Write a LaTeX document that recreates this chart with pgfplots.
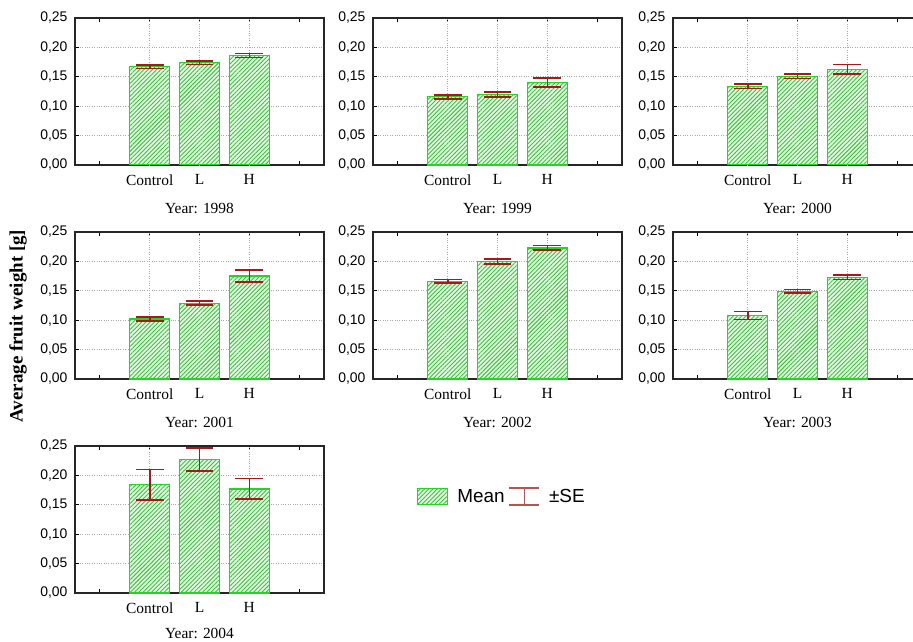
\documentclass[border=0pt]{standalone}
\usepackage{pgfplots}
\pgfplotsset{compat=1.18}
\usepackage{fontspec}
\setmainfont{Liberation Serif}
\newfontfamily\arial{Liberation Sans}
\usetikzlibrary{patterns.meta}
\definecolor{barg}{RGB}{34,214,34}
\definecolor{hatchg}{RGB}{60,195,60}
\definecolor{barbg}{RGB}{228,250,228}
\definecolor{errred}{RGB}{165,25,25}
\definecolor{gridc}{RGB}{170,170,170}

\pgfplotsset{
 panel/.style={
  anchor=north west, scale only axis, width=249bp, height=147bp,
  xmin=-0.5, xmax=4.5, ymin=0, ymax=0.25,
  xtick={0,1,2,3,4}, xticklabels={,Control,L,H,},
  extra x ticks={1,2,3}, extra x tick labels={},
  extra x tick style={grid=major, major tick length=0pt},
  ytick={0,0.05,0.1,0.15,0.2,0.25}, ymajorgrids,
  major grid style={gridc, dotted, line width=0.8bp},
  tick align=inside, major tick length=4bp, tick style={black, line width=1bp},
  ytick pos=left, xtick pos=both,
  axis line style={line width=1.2bp, black!85},
  yticklabel style={font=\arial\fontsize{14}{16}\selectfont, xshift=-4bp,
    /pgf/number format/.cd, fixed, fixed zerofill, precision=2, use comma, assume math mode=true},
  xticklabel style={font=\fontsize{15.5}{17}\selectfont, yshift=-6bp},
  xlabel style={font=\fontsize{15.5}{17}\selectfont, at={(axis description cs:0.5,0)}, anchor=center, yshift=-43bp},
 },
 bars/.style={ybar, bar width=40bp, draw=barg, line width=1.3bp, fill=barbg,
   postaction={pattern={Lines[angle=45,distance=3bp,line width=0.9bp]}, pattern color=hatchg}},
 errline/.style={draw=errred, line width=1.6bp, solid, mark=none, forget plot},
}

% error bar of mean #2 with standard error #3 at category position #1
\newcommand\eb[3]{%
  \pgfmathsetmacro\ebl{#1-0.28}\pgfmathsetmacro\ebr{#1+0.28}%
  \pgfmathsetmacro\ebh{#2+#3}\pgfmathsetmacro\ebo{#2-#3}%
  \edef\ebtemp{%
    \noexpand\addplot[errline] coordinates {(\ebl,\ebh) (\ebr,\ebh)};
    \noexpand\addplot[errline] coordinates {(#1,\ebh) (#1,\ebo)};
    \noexpand\addplot[errline] coordinates {(\ebl,\ebo) (\ebr,\ebo)};}%
  \ebtemp}

\begin{document}
\begin{tikzpicture}
\useasboundingbox (0,0) rectangle (913bp,-642bp);

\begin{axis}[panel, at={(75bp,-18bp)}, xlabel={Year: 1998}]
\addplot[bars] coordinates {(1,0.167) (2,0.174) (3,0.186)};
\eb{1}{0.167}{0.003}\eb{2}{0.174}{0.003}\eb{3}{0.186}{0.0035}
\end{axis}

\begin{axis}[panel, at={(373bp,-18bp)}, xlabel={Year: 1999}]
\addplot[bars] coordinates {(1,0.116) (2,0.120) (3,0.140)};
\eb{1}{0.116}{0.0035}\eb{2}{0.120}{0.004}\eb{3}{0.140}{0.0075}
\end{axis}

\begin{axis}[panel, at={(673bp,-18bp)}, xlabel={Year: 2000}]
\addplot[bars] coordinates {(1,0.134) (2,0.151) (3,0.163)};
\eb{1}{0.134}{0.004}\eb{2}{0.151}{0.004}\eb{3}{0.163}{0.008}
\end{axis}

\begin{axis}[panel, at={(75bp,-232bp)}, xlabel={Year: 2001},
  ylabel={Average fruit weight [g]},
  ylabel style={font=\bfseries\fontsize{19}{21}\selectfont, at={(axis description cs:-0.229,0.36)}, anchor=center}]
\addplot[bars] coordinates {(1,0.102) (2,0.129) (3,0.175)};
\eb{1}{0.102}{0.003}\eb{2}{0.129}{0.0035}\eb{3}{0.175}{0.0105}
\end{axis}

\begin{axis}[panel, at={(373bp,-232bp)}, xlabel={Year: 2002}]
\addplot[bars] coordinates {(1,0.166) (2,0.200) (3,0.223)};
\eb{1}{0.166}{0.003}\eb{2}{0.200}{0.0045}\eb{3}{0.223}{0.004}
\end{axis}

\begin{axis}[panel, at={(673bp,-232bp)}, xlabel={Year: 2003}]
\addplot[bars] coordinates {(1,0.108) (2,0.149) (3,0.173)};
\eb{1}{0.108}{0.007}\eb{2}{0.149}{0.003}\eb{3}{0.173}{0.004}
\end{axis}

\begin{axis}[panel, at={(75bp,-446bp)}, xlabel={Year: 2004},
  xlabel style={yshift=3bp},
  legend columns=2,
  legend style={at={(axis description cs:1.373,0.656)}, anchor=west, draw=none, fill=none,
    font=\arial\fontsize{19}{21}\selectfont, inner sep=0pt, nodes={inner sep=0pt},
    /tikz/every odd column/.append style={column sep=9bp},
    /tikz/every even column/.append style={column sep=4bp}},
  legend cell align=left]
\addplot[forget plot, bars] coordinates {(1,0.184) (2,0.227) (3,0.177)};
\eb{1}{0.184}{0.026}\eb{2}{0.227}{0.0195}\eb{3}{0.177}{0.0175}
\addlegendimage{legend image code/.code={
  \draw[draw=barg, line width=1.2bp, fill=barbg, postaction={pattern={Lines[angle=45,distance=3bp,line width=0.9bp]}, pattern color=hatchg}] (0bp,-8bp) rectangle (30bp,8bp);}}
\addlegendentry{Mean}
\addlegendimage{legend image code/.code={
  \draw[draw=errred!75!white, line width=1.4bp] (0bp,8.5bp) -- (30bp,8.5bp) (15bp,8.5bp) -- (15bp,-8.5bp) (0bp,-8.5bp) -- (30bp,-8.5bp);}}
\addlegendentry{±SE}
\end{axis}

\end{tikzpicture}
\end{document}
